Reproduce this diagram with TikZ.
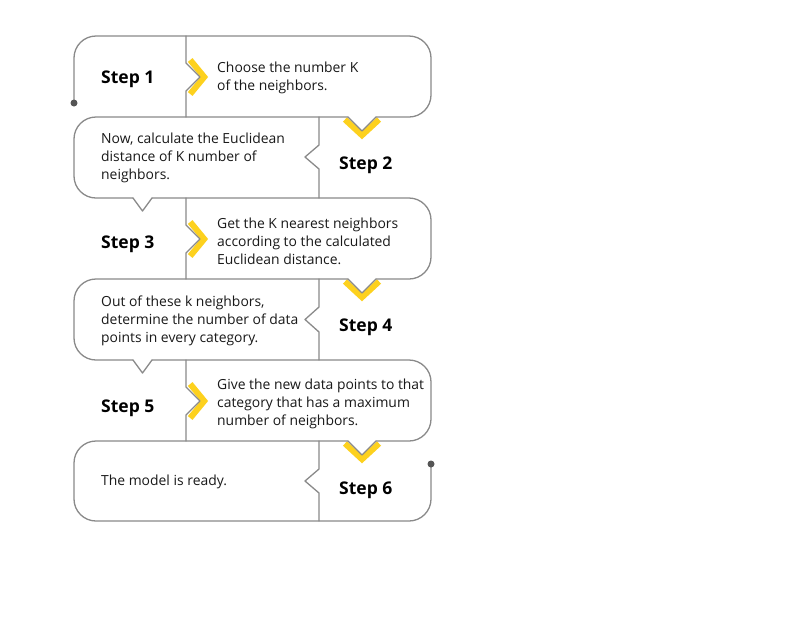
\documentclass[tikz,border=0pt]{standalone}
\usepackage{fontspec}
\setmainfont{Open Sans}
\definecolor{lg}{HTML}{8A8A8A}
\definecolor{yl}{HTML}{FDD11E}
\definecolor{dt}{HTML}{555555}
\begin{document}
\begin{tikzpicture}[x=1pt,y=-1pt,
  outline/.style={draw=lg,line width=1.3pt,line cap=round,line join=round},
  yel/.style={draw=yl,line width=6pt,line join=miter},
  body/.style={anchor=west,align=left,inner sep=0pt,font=\fontsize{13.9}{18}\selectfont,text=black!90},
  steplbl/.style={anchor=west,inner sep=0pt,font=\fontsize{17.5}{18}\selectfont\bfseries,text=black}]
\fill[white] (0,0) rectangle (786,630);
\useasboundingbox (0,0) rectangle (786,630);
% yellow chevrons (odd rows)
\draw[yel] (190.2,60) -- (204.2,77) -- (190.2,94);
\draw[yel] (190.2,222) -- (204.2,239) -- (190.2,256);
\draw[yel] (190.2,384) -- (204.2,401) -- (190.2,418);
% yellow V's
\draw[yel] (345,119.5) -- (362,135.2) -- (379,119.5);
\draw[yel] (345,281.5) -- (362,297.2) -- (379,281.5);
\draw[yel] (345,443.5) -- (362,459.2) -- (379,443.5);
% snake outline
\draw[outline,rounded corners=22] (74,103) -- (74,36) -- (431,36) -- (431,117) -- (376,117);
\draw[outline] (376,117) -- (362,131) -- (348,117);
\draw[outline,rounded corners=22] (348,117) -- (74,117) -- (74,198) -- (133,198);
\draw[outline] (133,198) -- (142.5,211) -- (152,198);
\draw[outline,rounded corners=22] (152,198) -- (431,198) -- (431,279) -- (376,279);
\draw[outline] (376,279) -- (362,293) -- (348,279);
\draw[outline,rounded corners=22] (348,279) -- (74,279) -- (74,360) -- (133,360);
\draw[outline] (133,360) -- (142.5,373) -- (152,360);
\draw[outline,rounded corners=22] (152,360) -- (431,360) -- (431,441) -- (376,441);
\draw[outline] (376,441) -- (362,455) -- (348,441);
\draw[outline,rounded corners=22] (348,441) -- (74,441) -- (74,521) -- (431,521) -- (431,464);
% dividers
\draw[outline] (186,36) -- (186,63) -- (200,77) -- (186,91) -- (186,117);
\draw[outline] (186,198) -- (186,225) -- (200,239) -- (186,253) -- (186,279);
\draw[outline] (186,360) -- (186,387) -- (200,401) -- (186,415) -- (186,441);
\draw[outline] (319,117) -- (319,145) -- (305,157) -- (319,169) -- (319,198);
\draw[outline] (319,279) -- (319,307) -- (305,319.5) -- (319,332) -- (319,360);
\draw[outline] (319,441) -- (319,469) -- (305,481) -- (319,493) -- (319,521);
% dots
\fill[dt] (74,103) circle (3.5);
\fill[dt] (431,464) circle (3.5);
% labels
\node[steplbl] (s1) at (101,79) {Step 1};
\node[steplbl] (s2) at (339,165) {Step 2};
\node[steplbl] (s3) at (101,244) {Step 3};
\node[steplbl] (s4) at (339,327) {Step 4};
\node[steplbl] (s5) at (101,408) {Step 5};
\node[steplbl] (s6) at (339,490) {Step 6};
\node[body] (t1) at (217,77.5) {Choose the number K\\of the neighbors.};
\node[body] (t2) at (101,158) {Now, calculate the Euclidean\\distance of K number of\\neighbors.};
\node[body] (t3) at (217,241.5) {Get the K nearest neighbors\\according to the calculated\\Euclidean distance.};
\node[body] (t4) at (101,321) {Out of these k neighbors,\\determine the number of data\\points in every category.};
\node[body] (t5) at (217,404) {Give the new data points to that\\category that has a maximum\\number of neighbors.};
\node[body] (t6) at (101,482) {The model is ready.};
\end{tikzpicture}
\end{document}
